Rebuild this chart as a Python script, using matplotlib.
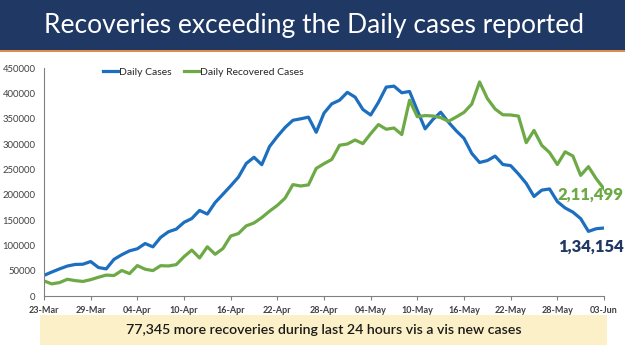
import matplotlib
matplotlib.use("Agg")
import matplotlib.pyplot as plt
from matplotlib.patches import Rectangle
from matplotlib.lines import Line2D
import numpy as np

daily_cases = [40715, 47262, 53476, 59118, 62258, 62714, 68020, 56211, 53480,
               72330, 81466, 89129, 93249, 103558, 96982, 115736, 126789, 131968,
               145384, 152879, 168912, 161736, 184372, 200739, 217353, 234692,
               261500, 273810, 259170, 295041, 314835, 332730, 346786, 349691,
               352991, 323144, 360960, 379257, 386452, 401993, 392488, 368147,
               357229, 382315, 412262, 414188, 401078, 403738, 366161, 329942,
               348421, 362727, 343144, 326098, 311170, 281386, 263533, 267334,
               276110, 259551, 257299, 240842, 222315, 196427, 208921, 211298,
               186364, 173790, 165553, 152734, 127510, 132788, 134154]
daily_recovered = [29785, 23907, 26490, 32987, 30386, 28739, 32231, 37028, 41280,
                   40382, 50356, 44202, 60048, 52847, 50143, 59856, 59258, 61899,
                   77567, 90584, 75086, 97168, 82339, 93528, 118302, 123354,
                   138423, 144178, 154761, 167457, 178841, 193279, 219838, 217113,
                   219272, 251827, 261162, 269507, 297540, 299988, 307865, 300732,
                   320289, 338439, 329113, 331507, 318609, 386444, 353818, 356082,
                   355338, 352181, 344776, 353299, 362437, 378741, 422436, 389851,
                   369077, 357630, 357295, 355102, 302544, 326850, 297299, 283135,
                   259459, 284601, 276309, 238022, 255287, 231456, 211499]
tick_labels = ["23-Mar", "29-Mar", "04-Apr", "10-Apr", "16-Apr", "22-Apr", "28-Apr",
               "04-May", "10-May", "16-May", "22-May", "28-May", "03-Jun"]
yticks = [0, 50000, 100000, 150000, 200000, 250000, 300000, 350000, 400000, 450000]
title = "Recoveries exceeding the Daily cases reported"
footer = "77,345 more recoveries during last 24 hours vis a vis new cases"
label_rec = "2,11,499"
label_cases = "1,34,154"

plt.rcParams['font.family'] = ['Lato', 'DejaVu Sans']

W, H = 625, 351
fig = plt.figure(figsize=(W / 100, H / 100), dpi=100)
fig.patch.set_facecolor("white")

def fx(px):
    return px / W

def fy(py):
    return 1 - py / H

# Title banner
fig.add_artist(Rectangle((0, fy(50)), 1, 50 / H, transform=fig.transFigure,
                         facecolor="#1F3864", edgecolor="none"))
fig.add_artist(Rectangle((0, fy(51.5)), 1, 1.5 / H, transform=fig.transFigure,
                         facecolor="#E08A4E", edgecolor="none"))
fig.text(fx(314), fy(25), title, color="white", fontsize=19,
         ha="center", va="center")

# Axes
x = np.arange(len(daily_cases))
ax = fig.add_axes([fx(44), fy(296), fx(604) - fx(44), fy(68) - fy(296)])
ax.plot(x, daily_cases, color="#1C6FBE", lw=2.3, solid_joinstyle="round")
ax.plot(x, daily_recovered, color="#6DAA45", lw=2.3, solid_joinstyle="round")
ax.set_xlim(0, len(x) - 1)
ax.set_ylim(0, 450000)
ax.set_xticks(np.arange(0, len(x), 6))
ax.set_xticklabels(tick_labels, fontsize=6.5, fontweight="bold", color="#404040")
ax.set_yticks(yticks)
ax.set_yticklabels([str(v) for v in yticks], fontsize=6.8, color="#404040")
ax.tick_params(axis="x", length=3, width=0.8, color="#808080", direction="out", pad=4)
ax.tick_params(axis="y", length=0, pad=6)
for s in ["top", "right"]:
    ax.spines[s].set_visible(False)
for s in ["left", "bottom"]:
    ax.spines[s].set_color("#808080")
    ax.spines[s].set_linewidth(0.8)
ax.set_facecolor("none")

# Legend
handles = [Line2D([], [], color="#1C6FBE", lw=2.3),
           Line2D([], [], color="#6DAA45", lw=2.3)]
fig.legend(handles, ["Daily Cases", "Daily Recovered Cases"], ncol=2,
           loc="center left", bbox_to_anchor=(fx(94), fy(72)), frameon=False,
           fontsize=7.5, handlelength=1.4, handletextpad=0.1, columnspacing=1.2,
           labelcolor="#262626")

# End labels
ax.annotate(label_rec, xy=(x[-1], daily_recovered[-1]), xytext=(fx(591), fy(195)),
            textcoords="figure fraction", fontsize=12, fontweight="heavy",
            color="#6DAA45", ha="center", va="center")
ax.annotate(label_cases, xy=(x[-1], daily_cases[-1]), xytext=(fx(591), fy(247)),
            textcoords="figure fraction", fontsize=12, fontweight="heavy",
            color="#1F3864", ha="center", va="center")

# Footer box
fig.add_artist(Rectangle((fx(40), fy(345)), (607 - 40) / W, 30 / H,
                         transform=fig.transFigure, facecolor="#FCF0C8",
                         edgecolor="none"))
fig.text(fx(324), fy(330), footer, fontsize=10.2, color="#1a1a1a",
         ha="center", va="center", fontweight="semibold")

fig.savefig("out.png", dpi=100)
